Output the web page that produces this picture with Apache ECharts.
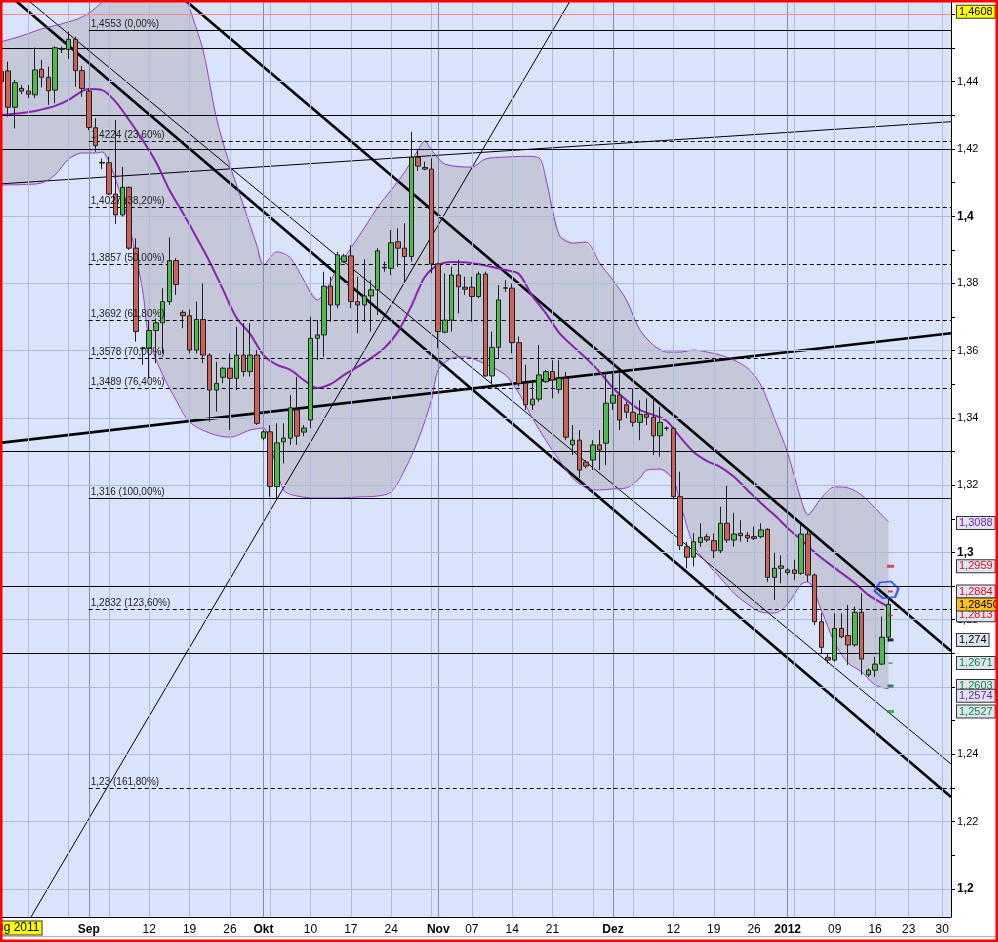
<!DOCTYPE html>
<html><head><meta charset="utf-8">
<script src="https://cdn.jsdelivr.net/npm/echarts@6/dist/echarts.min.js"></script>
<style>html,body{margin:0;padding:0;background:#fff}#c{width:998px;height:942px}</style>
</head><body><div id="c"></div>
<script>
// ---------- DATA ----------
const dates = ['2011-08-17','08-18','08-19','08-21','08-22','08-23','08-24','08-25','08-26','08-28',
'08-29','08-30','08-31','09-01','09-02','09-04','09-05','09-06','09-07','09-08',
'09-09','09-11','09-12','09-13','09-14','09-15','09-16','09-18','09-19','09-20',
'09-21','09-22','09-23','09-25','09-26','09-27','09-28','09-29','09-30','10-02',
'10-03','10-04','10-05','10-06','10-07','10-09','10-10','10-11','10-12','10-13',
'10-14','10-16','10-17','10-18','10-19','10-20','10-21','10-23','10-24','10-25',
'10-26','10-27','10-28','10-30','10-31','11-01','11-02','11-03','11-04','11-06',
'11-07','11-08','11-09','11-10','11-11','11-13','11-14','11-15','11-16','11-17',
'11-18','11-20','11-21','11-22','11-23','11-24','11-25','11-27','11-28','11-29',
'11-30','12-01','12-02','12-04','12-05','12-06','12-07','12-08','12-09','12-11',
'12-12','12-13','12-14','12-15','12-16','12-18','12-19','12-20','12-21','12-22',
'12-23','12-25','12-26','12-27','12-28','12-29','12-30','2012-01-01','01-02','01-03',
'01-04','01-05','01-06','01-08','01-09','01-10','01-11','01-12','01-13','01-15',
'01-16','01-17','01-18','01-19','01-20','01-23','01-24','01-25','01-26','01-27',
'01-30','01-31'];

const open = [1.4400,1.4432,1.4324,1.4380,1.4372,1.4361,1.4437,1.4413,1.4375,1.4496,
1.4496,1.4526,1.4433,1.4372,1.4263,1.4160,1.4159,1.4066,1.4004,1.4086,
1.3905,1.3606,1.3607,1.3660,1.3683,1.3746,1.3868,1.3714,1.3704,1.3602,
1.3693,1.3587,1.3483,1.3521,1.3548,1.3518,1.3587,1.3538,1.3587,1.3340,
1.3359,1.3196,1.3329,1.3340,1.3424,1.3358,1.3394,1.3637,1.3647,1.3792,
1.3736,1.3865,1.3882,1.3746,1.3736,1.3763,1.3781,1.3846,1.3845,1.3924,
1.3905,1.3880,1.4175,1.4145,1.4140,1.3858,1.3655,1.3691,1.3825,1.3789,
1.3789,1.3761,1.3828,1.3525,1.3610,1.3786,1.3786,1.3624,1.3503,1.3439,
1.3456,1.3508,1.3538,1.3485,1.3518,1.3320,1.3334,1.3269,1.3275,1.3320,
1.3325,1.3444,1.3468,1.3439,1.3417,1.3387,1.3411,1.3402,1.3347,1.3369,
1.3369,1.3166,1.3017,1.2986,1.3030,1.3047,1.3035,1.3005,1.3087,1.3037,
1.3057,1.3051,1.3047,1.3047,1.3069,1.2926,1.2953,1.2940,1.2948,1.2938,
1.3055,1.2933,1.2794,1.2688,1.2680,1.2774,1.2753,1.2725,1.2822,1.2636,
1.2650,1.2668,1.2748];
const close = [1.4430,1.4324,1.4397,1.4372,1.4363,1.4435,1.4413,1.4373,1.4501,1.4498,
1.4526,1.4433,1.4380,1.4264,1.4210,1.4158,1.4066,1.4004,1.4086,1.3905,
1.3657,1.3608,1.3660,1.3683,1.3746,1.3868,1.3797,1.3704,1.3602,1.3693,
1.3587,1.3483,1.3503,1.3548,1.3518,1.3587,1.3538,1.3587,1.3384,1.3359,
1.3196,1.3326,1.3340,1.3430,1.3346,1.3370,1.3637,1.3647,1.3792,1.3736,
1.3885,1.3882,1.3746,1.3736,1.3763,1.3781,1.3897,1.3848,1.3921,1.3905,
1.3880,1.4175,1.4149,1.4140,1.3858,1.3657,1.3691,1.3825,1.3790,1.3783,
1.3761,1.3828,1.3525,1.3610,1.3751,1.3787,1.3624,1.3503,1.3439,1.3456,
1.3528,1.3538,1.3513,1.3518,1.3343,1.3334,1.3245,1.3257,1.3320,1.3305,
1.3444,1.3468,1.3394,1.3417,1.3387,1.3411,1.3402,1.3347,1.3387,1.3370,
1.3166,1.3020,1.2986,1.3032,1.3045,1.3037,1.3005,1.3087,1.3037,1.3055,
1.3050,1.3043,1.3042,1.3067,1.2926,1.2953,1.2960,1.2948,1.2938,1.3055,
1.2933,1.2794,1.2718,1.2680,1.2774,1.2749,1.2725,1.2822,1.2683,1.2650,
1.2668,1.2748,1.2846];
const low = [1.4390,1.4296,1.4261,1.4363,1.4351,1.4351,1.4383,1.4331,1.4336,1.4485,
1.4467,1.4385,1.4355,1.4256,1.4192,1.4140,1.4063,1.3977,1.3999,1.3900,
1.3627,1.3558,1.3518,1.3563,1.3592,1.3736,1.3766,1.3667,1.3592,1.3592,
1.3563,1.3389,1.3419,1.3503,1.3364,1.3483,1.3523,1.3523,1.3379,1.3334,
1.3166,1.3156,1.3265,1.3320,1.3320,1.3346,1.3370,1.3572,1.3582,1.3686,
1.3726,1.3861,1.3726,1.3652,1.3686,1.3657,1.3706,1.3835,1.3825,1.3850,
1.3805,1.3865,1.4135,1.4137,1.3830,1.3607,1.3652,1.3657,1.3711,1.3766,
1.3686,1.3756,1.3523,1.3503,1.3577,1.3775,1.3592,1.3493,1.3424,1.3424,
1.3448,1.3504,1.3458,1.3473,1.3334,1.3290,1.3221,1.3250,1.3245,1.3245,
1.3260,1.3424,1.3364,1.3399,1.3374,1.3334,1.3379,1.3290,1.3285,1.3362,
1.3161,1.3007,1.2953,1.2958,1.3017,1.3031,1.2983,1.2998,1.3029,1.3017,
1.3032,1.3031,1.3037,1.3042,1.2913,1.2859,1.2908,1.2933,1.2918,1.2933,
1.2913,1.2784,1.2700,1.2670,1.2675,1.2745,1.2665,1.2720,1.2636,1.2630,
1.2630,1.2665,1.2735];
const high = [1.4441,1.4460,1.4405,1.4390,1.4390,1.4501,1.4465,1.4445,1.4505,1.4504,
1.4549,1.4534,1.4447,1.4380,1.4291,1.4172,1.4177,1.4286,1.4147,1.4088,
1.3934,1.3612,1.3691,1.3696,1.3786,1.3937,1.3875,1.3721,1.3723,1.3746,
1.3800,1.3592,1.3567,1.3552,1.3592,1.3671,1.3682,1.3682,1.3602,1.3364,
1.3379,1.3384,1.3384,1.3468,1.3522,1.3379,1.3701,1.3691,1.3835,1.3820,
1.3894,1.3888,1.3914,1.3820,1.3872,1.3810,1.3905,1.3865,1.3959,1.3964,
1.3979,1.4251,1.4199,1.4162,1.4172,1.3862,1.3830,1.3850,1.3870,1.3820,
1.3820,1.3835,1.3835,1.3657,1.3795,1.3810,1.3800,1.3642,1.3558,1.3513,
1.3617,1.3543,1.3572,1.3572,1.3537,1.3379,1.3364,1.3275,1.3334,1.3364,
1.3533,1.3533,1.3533,1.3448,1.3488,1.3453,1.3458,1.3463,1.3433,1.3375,
1.3374,1.3240,1.3032,1.3057,1.3087,1.3055,1.3057,1.3136,1.3198,1.3118,
1.3096,1.3061,1.3077,1.3087,1.3072,1.2999,1.2992,1.2954,1.2978,1.3082,
1.3072,1.2938,1.2820,1.2700,1.2819,1.2819,1.2844,1.2839,1.2879,1.2655,
1.2690,1.2809,1.2867];

// Bollinger bands and 20-day average at sample candles [index, price]
const bbUpper = [[0,1.4519],[3,1.4536],[6,1.4557],[9,1.4572],[12,1.4592],[14,1.4619],[16,1.4658],[19,1.4732],[22,1.4762],[25,1.4747],[27,1.4688],[28,1.4619],[30,1.4494],[32,1.4292],[34,1.4152],[36,1.4033],[38,1.3914],[39,1.3855],[41,1.3894],[43,1.3876],[45,1.3810],[47,1.3751],[48,1.3769],[50,1.3846],[52,1.3905],[54,1.3965],[56,1.4027],[58,1.4078],[60,1.4131],[62,1.4197],[63,1.4224],[64,1.4197],[66,1.4155],[70,1.4146],[72,1.4170],[75,1.4176],[78,1.4178],[80,1.4173],[81,1.4114],[83,1.3944],[85,1.3920],[87,1.3923],[89,1.3861],[91,1.3810],[93,1.3751],[95,1.3662],[97,1.3617],[99,1.3596],[101,1.3596],[103,1.3602],[105,1.3596],[107,1.3587],[109,1.3572],[111,1.3549],[113,1.3498],[115,1.3400],[117,1.3296],[119,1.3156],[120,1.3112],[122,1.3162],[124,1.3195],[126,1.3192],[128,1.3171],[130,1.3132],[132,1.3091]];
const bbLower = [[0,1.4093],[3,1.4094],[6,1.4099],[8,1.4123],[10,1.4170],[12,1.4188],[14,1.4188],[15,1.4191],[17,1.4108],[19,1.3974],[21,1.3781],[22,1.3632],[24,1.3528],[26,1.3453],[28,1.3388],[31,1.3355],[34,1.3343],[37,1.3364],[39,1.3370],[40,1.3320],[42,1.3186],[44,1.3168],[47,1.3162],[50,1.3162],[53,1.3165],[56,1.3168],[58,1.3180],[60,1.3245],[62,1.3334],[64,1.3453],[65,1.3543],[67,1.3578],[69,1.3582],[72,1.3560],[75,1.3528],[77,1.3474],[79,1.3400],[81,1.3334],[83,1.3275],[85,1.3221],[87,1.3192],[89,1.3186],[91,1.3189],[93,1.3192],[95,1.3221],[96,1.3245],[98,1.3248],[100,1.3216],[101,1.3147],[103,1.3022],[105,1.2969],[107,1.2924],[109,1.2879],[111,1.2847],[113,1.2823],[115,1.2820],[117,1.2847],[119,1.2906],[120,1.2912],[122,1.2829],[124,1.2731],[126,1.2671],[128,1.2645],[130,1.2606],[132,1.2595]];
const ma20 = [[0,1.4301],[3,1.4307],[5,1.4313],[8,1.4328],[10,1.4346],[12,1.4372],[13,1.4378],[15,1.4375],[17,1.4340],[19,1.4286],[21,1.4227],[23,1.4161],[25,1.4078],[27,1.4010],[29,1.3938],[31,1.3864],[33,1.3781],[35,1.3697],[37,1.3650],[39,1.3587],[41,1.3558],[43,1.3543],[45,1.3513],[47,1.3489],[49,1.3501],[51,1.3528],[53,1.3552],[55,1.3578],[57,1.3608],[59,1.3656],[61,1.3733],[63,1.3819],[65,1.3855],[67,1.3864],[70,1.3861],[73,1.3849],[75,1.3840],[77,1.3828],[79,1.3763],[81,1.3712],[83,1.3653],[85,1.3614],[87,1.3578],[89,1.3537],[91,1.3489],[93,1.3453],[95,1.3424],[97,1.3409],[99,1.3391],[101,1.3343],[103,1.3299],[105,1.3272],[107,1.3254],[109,1.3225],[111,1.3186],[113,1.3147],[115,1.3112],[117,1.3073],[119,1.3037],[121,1.3001],[123,1.2969],[125,1.2939],[127,1.2909],[129,1.2874],[132,1.2838]];

// Horizontal levels
const hLevels = [1.4553,1.4502,1.4276,1.4150,1.3295,1.2885,1.2653];
const fibLevels = [1.4553,1.4224,1.4027,1.3857,1.3692,1.3578,1.3489,1.316,1.2832,1.23];
const fibText = ['1,4553 (0,00%)','1,4224 (23,60%)','1,4027 (38,20%)','1,3857 (50,00%)','1,3692 (61,80%)','1,3578 (70,00%)','1,3489 (76,40%)','1,316 (100,00%)','1,2832 (123,60%)','1,23 (161,80%)'];
const fibSolid = [true,false,false,false,false,false,false,true,false,false];
const fibStart = 13;
const highMark = 1.4608;

// Trend lines [index, price] pairs
const trendThick = [
  [[27.3,1.4643],[141.3,1.2707]],
  [[2.0,1.4643],[141.3,1.2273]],
  [[-0.2,1.3326],[141.3,1.3652]]
];
const trendThin = [
  [[3.9,1.4643],[141.3,1.2371]],
  [[4.4,1.1916],[84.7,1.4643]],
  [[-0.2,1.4096],[141.3,1.4281]]
];

// Axis ticks and labels
const xLabelIdx = [13,22,28,34,39,46,52,58,65,70,76,82,91,100,106,112,117,124,130,135,140];
const xLabelText = ['Sep','12','19','26','Okt','10','17','24','Nov','07','14','21','Dez','12','19','26','2012','09','16','23','30'];
const monthIdx = [13,39,65,91,117];
const weekIdx = [4,10,16,22,28,34,40,46,52,58,64,70,76,82,88,94,100,106,112,118,124,130,135,140];
const yLabelVals = [1.20,1.22,1.24,1.26,1.28,1.30,1.32,1.34,1.36,1.38,1.40,1.42,1.44,1.46];
const yTickVals = [1.20,1.21,1.22,1.23,1.24,1.25,1.26,1.27,1.28,1.29,1.30,1.31,1.32,1.33,1.34,1.35,1.36,1.37,1.38,1.39,1.40,1.41,1.42,1.43,1.44,1.45,1.46];

// Price tags on the right axis (drawn in this order)
const tagVals  = [1.4608,1.3088,1.2959,1.2884,1.2813,1.28450,1.2740,1.2671,1.2603,1.2574,1.2527];
const tagText  = ['1,4608','1,3088','1,2959','1,2884','1,2813','1,28450','1,274','1,2671','1,2603','1,2574','1,2527'];
const tagColor = ['#000','#7a1fa0','#e01010','#e01010','#e01010','#000','#000','#138a2a','#138a2a','#7a1fa0','#138a2a'];
const tagBg    = ['#ffff00','#dfe4f4','#dfe4f4','#dfe4f4','#dfe4f4','#ffc21a','#dfe4f4','#dfe4f4','#dfe4f4','#dfe4f4','#dfe4f4'];

// Pivot markers right of the last candle
const pivotIdx = 132.3;
const pivotVals = [1.2959,1.2884,1.2813,1.2740,1.2671,1.2603,1.2527];
const pivotColor = ['#e02020','#e02020','#e02020','#000000','#2a9a2a','#1e6040','#1a9a3a'];
const pivotSize = [[7,3],[5,2],[5,1.5],[6,3],[4,1.5],[6,3],[7,3]];
const circleAt = [131.7,1.2889];

// ---------- CHART ----------
const chart = echarts.init(document.getElementById('c'), null, {renderer:'canvas'});
const candles = open.map((o,i)=>[i,o,close[i],low[i],high[i]]);

const gridMarks = [];
weekIdx.forEach(i=>gridMarks.push({xAxis:i, lineStyle:{color:'#aebcdb',width:1,type:'solid'}}));
monthIdx.forEach(i=>gridMarks.push({xAxis:i, lineStyle:{color:'#7d8db0',width:1,type:'solid'}}));
yLabelVals.forEach(v=>gridMarks.push({yAxis:v, lineStyle:{color:'#aebcdb',width:1,type:'solid'}}));

const levelMarks = [];
hLevels.forEach(v=>levelMarks.push({yAxis:v, lineStyle:{color:'#000',width:1,type:'solid'}}));
levelMarks.push({yAxis:highMark, lineStyle:{color:'#f08a8a',width:1,type:'solid'}});
fibLevels.forEach((v,k)=>levelMarks.push([
  {coord:[fibStart,v], lineStyle:{color:'#000',width:1,type:fibSolid[k]?'solid':[4,3]}},
  {coord:[141.3,v]}]));

const series = [
  {type:'custom', name:'bandFill', z:1, silent:true, clip:true, data:[[0,1.3]], encode:{x:0,y:1},
   renderItem:(params, api)=>{
     const pts = bbUpper.map(p=>api.coord(p)).concat(bbLower.slice().reverse().map(p=>api.coord(p)));
     return {type:'polygon', shape:{points:pts}, style:{fill:'#c4c8d8'}};
   }},
  {type:'line', name:'grid', z:2, silent:true, data:[[0,1.3]], showSymbol:false, symbol:'none', lineStyle:{opacity:0},
   markLine:{silent:true, symbol:['none','none'], label:{show:false}, animation:false, data:gridMarks}},
  {type:'line', name:'levels', z:3, silent:true, data:[[0,1.3]], showSymbol:false, symbol:'none', lineStyle:{opacity:0},
   markLine:{silent:true, symbol:['none','none'], label:{show:false}, animation:false, data:levelMarks}},
];
trendThick.forEach(t=>series.push({type:'line', z:3, silent:true, data:t, symbol:'none', lineStyle:{color:'#000',width:2.6}}));
trendThin.forEach(t=>series.push({type:'line', z:3, silent:true, data:t, symbol:'none', lineStyle:{color:'#000',width:1}}));
series.push({type:'line', name:'BB upper', z:4, silent:true, data:bbUpper, symbol:'none', smooth:0.3, lineStyle:{color:'#9a3cc8',width:1}});
series.push({type:'line', name:'BB lower', z:4, silent:true, data:bbLower, symbol:'none', smooth:0.3, lineStyle:{color:'#9a3cc8',width:1}});
series.push({type:'line', name:'MA20', z:4, silent:true, data:ma20, symbol:'none', smooth:0.3, lineStyle:{color:'#8a22b0',width:2}});
series.push({type:'candlestick', name:'EUR/USD', z:5, data:candles, encode:{x:0,y:[1,2,3,4]}, barWidth:5,
  itemStyle:{color:'#4fb84f', color0:'#c9625a', borderColor:'#202020', borderColor0:'#202020', borderWidth:1}});
series.push({type:'scatter', z:6, silent:true,
  data:pivotVals.map((v,k)=>({value:[pivotIdx,v], symbolSize:pivotSize[k], itemStyle:{color:pivotColor[k]}})),
  symbol:'rect'});
series.push({type:'scatter', z:7, silent:true, data:[circleAt],
  symbol:'path://M5,1 L15,0 L22,6 L19,13 L8,14 L0,8 Z', symbolSize:[24,17],
  itemStyle:{color:'rgba(0,0,0,0)', borderColor:'#1e3ce6', borderWidth:2}});

chart.setOption({
  animation:false,
  backgroundColor:'#ffffff',
  grid:{left:2, top:2, width:949, height:915, show:true, backgroundColor:'#d9e3f9', borderWidth:0},
  xAxis:{type:'value', min:0.09, max:141.3, position:'bottom',
    axisLine:{show:true, onZero:false, lineStyle:{color:'#000',width:1}},
    axisTick:{show:false}, splitLine:{show:false},
    axisLabel:{customValues:xLabelIdx, margin:7, color:'#000', fontSize:12, fontFamily:'Arial',
      formatter:v=>{const k=xLabelIdx.indexOf(Math.round(v)); if(k<0) return ''; const t=xLabelText[k];
        return monthIdx.indexOf(xLabelIdx[k])>=0 ? '{b|'+t+'}' : t;},
      rich:{b:{fontWeight:'bold', fontSize:12, fontFamily:'Arial', color:'#000'}}}},
  yAxis:{type:'value', position:'right', min:1.1916, max:1.4637,
    axisLine:{show:true, lineStyle:{color:'#000',width:1}},
    axisTick:{show:true, customValues:yTickVals, length:4, lineStyle:{color:'#000'}},
    splitLine:{show:false},
    axisLabel:{customValues:yLabelVals, margin:6, color:'#000', fontSize:11, fontFamily:'Arial',
      formatter:v=>{const s=String(+(+v).toFixed(2)).replace('.',','); const b=[1.2,1.3,1.4].some(x=>Math.abs(x-v)<1e-6);
        return b ? '{b|'+s+'}' : s;},
      rich:{b:{fontWeight:'bold', fontSize:12, fontFamily:'Arial', color:'#000'}}}},
  series:series
});

// ---------- overlays positioned through the axes ----------
const toPx = (x,y)=>chart.convertToPixel({xAxisIndex:0,yAxisIndex:0},[x,y]);
const graphics = [];
fibLevels.forEach((v,k)=>{
  const p = toPx(fibStart, v);
  graphics.push({type:'text', x:p[0]+2, y:p[1]-1, z:50, silent:true,
    style:{text:fibText[k], font:'10px Arial', fill:'#222', verticalAlign:'bottom', textAlign:'left'}});
});
tagVals.forEach((v,k)=>{
  const p = toPx(0, v);
  graphics.push({type:'text', x:957, y:p[1], z:60+k, silent:true,
    style:{text:tagText[k], font:'11px Arial', fill:tagColor[k], backgroundColor:tagBg[k],
      borderColor:'#333', borderWidth:1, padding:[1,2,0,2], verticalAlign:'middle', textAlign:'left'}});
});
graphics.push({type:'text', x:-13, y:928, z:80, silent:true,
  style:{text:'Aug 2011', font:'12px Arial', fill:'#000', backgroundColor:'#ffff00', borderColor:'#333',
    borderWidth:1, padding:[1,2,0,2], verticalAlign:'middle', textAlign:'left'}});
graphics.push({type:'line', z:90, silent:true, shape:{x1:0,y1:936.5,x2:998,y2:936.5}, style:{stroke:'#b8b8b8',lineWidth:1}});
graphics.push({type:'rect', z:100, silent:true, shape:{x:1,y:1,width:996,height:940}, style:{fill:null, stroke:'#ff0000', lineWidth:3}});
chart.setOption({graphic:graphics});
</script></body></html>
